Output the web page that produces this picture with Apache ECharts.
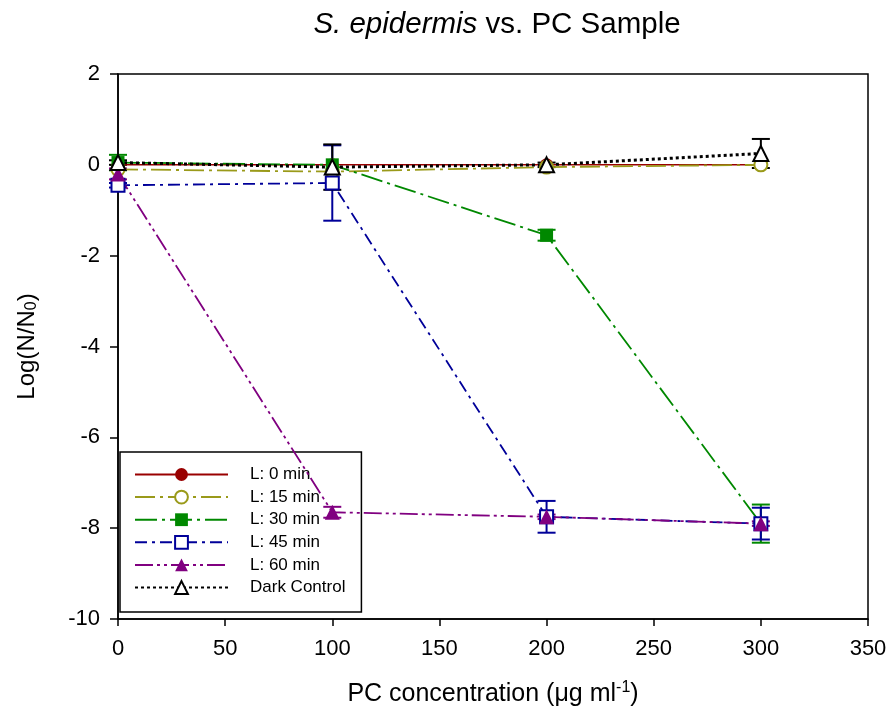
<!DOCTYPE html>
<html><head><meta charset="utf-8">
<script src="https://cdn.jsdelivr.net/npm/echarts@6/dist/echarts.min.js"></script>
<style>html,body{margin:0;padding:0;background:#fff}#c{width:895px;height:718px}</style>
</head><body><div id="c"></div>
<script>
const xValues = [0, 100, 200, 300];
const names = ['L: 0 min', 'L: 15 min', 'L: 30 min', 'L: 45 min', 'L: 60 min', 'Dark Control'];
const l0 = [0, 0, 0, 0];
const l15 = [-0.1, -0.15, -0.05, 0.0];
const l30 = [0.05, 0.0, -1.55, -7.9];
const l45 = [-0.45, -0.4, -7.75, -7.9];
const l60 = [-0.2, -7.65, -7.75, -7.9];
const dark = [0.05, -0.05, 0.0, 0.25];
const err0 = [0, 0, 0, 0];
const err15 = [0, 0, 0, 0];
const err30 = [0.17, 0, 0.12, 0.42];
const err45 = [0.05, 0.83, 0.35, 0.35];
const err60 = [0.12, 0.12, 0.05, 0.05];
const errDark = [0.05, 0.5, 0.05, 0.32];

const colors = ['#990000', '#9a9a1a', '#008800', '#000099', '#800080', '#000000'];
const symbols = ['circle', 'emptyCircle', 'rect', 'emptyRect', 'triangle', 'emptyTriangle'];
const dashes = [null, [20, 5, 3, 5], [22, 5, 3, 5], [12, 5, 3, 5], [18, 4, 3, 4, 3, 4], [3, 3]];
const widths = [1.5, 1.8, 1.8, 1.8, 1.8, 3];
const vals = [l0, l15, l30, l45, l60, dark];
const errs = [err0, err15, err30, err45, err60, errDark];

const FONT = 'Liberation Sans';
const series = [];
vals.forEach((v, i) => {
  series.push({
    type: 'custom', name: names[i] + '_err', silent: true, z: 3,
    data: xValues.map((x, j) => [x, v[j], errs[i][j]]).filter(d => d[2] > 0),
    renderItem: function (params, api) {
      const x = api.value(0), y = api.value(1), e = api.value(2);
      const top = api.coord([x, y + e]), bot = api.coord([x, y - e]);
      const hw = 9;
      const st = { stroke: colors[i], lineWidth: 2 };
      return { type: 'group', children: [
        { type: 'line', shape: { x1: top[0], y1: top[1], x2: bot[0], y2: bot[1] }, style: st },
        { type: 'line', shape: { x1: top[0] - hw, y1: top[1], x2: top[0] + hw, y2: top[1] }, style: st },
        { type: 'line', shape: { x1: bot[0] - hw, y1: bot[1], x2: bot[0] + hw, y2: bot[1] }, style: st }
      ]};
    }
  });
});
vals.forEach((v, i) => {
  series.push({
    type: 'line', name: names[i], z: 4,
    data: xValues.map((x, j) => [x, v[j]]),
    symbol: symbols[i], symbolSize: i === 4 || i === 5 ? 15 : 13,
    color: colors[i],
    itemStyle: { color: colors[i], borderWidth: 2 },
    lineStyle: { color: colors[i], width: widths[i], type: dashes[i] || 'solid' }
  });
});

const chart = echarts.init(document.getElementById('c'));
chart.setOption({
  animation: false,
  backgroundColor: '#fff',
  textStyle: { fontFamily: FONT },
  title: {
    text: '{i|S. epidermis} vs. PC Sample', left: 492, textAlign: 'center', top: 5,
    textStyle: { fontSize: 29.5, fontWeight: 'normal', color: '#000', fontFamily: FONT,
      rich: { i: { fontSize: 29.5, fontStyle: 'italic', color: '#000', fontFamily: FONT } } }
  },
  legend: {
    data: names, orient: 'vertical', left: 120, top: 452, z: 1,
    backgroundColor: '#fff', borderColor: '#000', borderWidth: 1.5, borderRadius: 0,
    padding: [14, 16, 16, 14], itemGap: 5.6, itemWidth: 93, itemHeight: 16,
    textStyle: { fontSize: 17, lineHeight: 17, color: '#000', fontFamily: FONT, padding: [0, 0, 0, 17] }
  },
  grid: { left: 118, right: 27, top: 74, bottom: 99, show: true, borderColor: '#000', borderWidth: 1.5, backgroundColor: 'transparent' },
  xAxis: {
    type: 'value', min: 0, max: 350, interval: 50,
    name: 'PC concentration (\u03bcg ml{sup|-1})', nameLocation: 'middle', nameGap: 61,
    nameTextStyle: { fontSize: 25, color: '#000', fontFamily: FONT,
      rich: { sup: { fontSize: 16, verticalAlign: 'top', padding: [0, 0, 13, 0], fontFamily: FONT, color: '#000' } } },
    axisLine: { onZero: false, lineStyle: { color: '#000', width: 1.5 } },
    axisTick: { inside: false, length: 7, lineStyle: { color: '#000', width: 1.5 } },
    axisLabel: { fontSize: 22, color: '#000', margin: 19, fontFamily: FONT },
    splitLine: { show: false }
  },
  yAxis: {
    type: 'value', min: -10, max: 2, interval: 2,
    name: 'Log(N/N{sub|0})', nameLocation: 'middle', nameGap: 78,
    nameTextStyle: { fontSize: 24, color: '#000', fontFamily: FONT,
      rich: { sub: { fontSize: 16, padding: [10, 0, 0, 0], fontFamily: FONT, color: '#000' } } },
    axisLine: { onZero: false, lineStyle: { color: '#000', width: 1.5 } },
    axisTick: { inside: false, length: 8, lineStyle: { color: '#000', width: 1.5 } },
    axisLabel: { fontSize: 22, color: '#000', margin: 18, fontFamily: FONT },
    splitLine: { show: false }
  },
  series: series
});
</script></body></html>
